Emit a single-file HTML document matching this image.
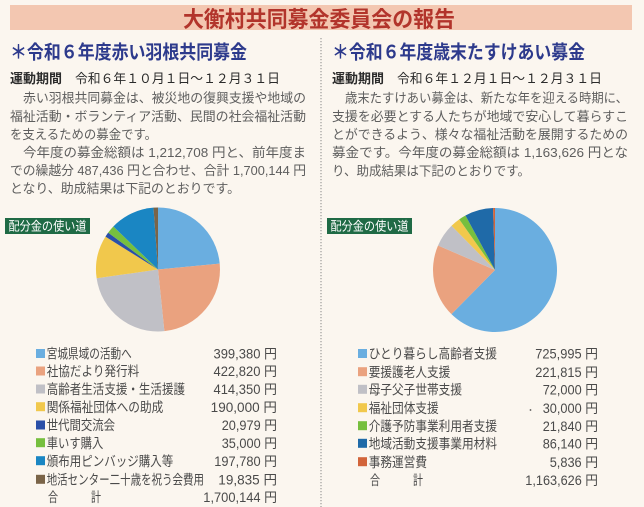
<!DOCTYPE html>
<html><head><meta charset="utf-8">
<style>
html,body{margin:0;padding:0;background:#fbf6ef;}
svg{display:block;}
text{font-family:"Liberation Sans","Noto Sans CJK JP",sans-serif;}
</style></head>
<body>
<svg width="644" height="507" viewBox="0 0 644 507" xmlns="http://www.w3.org/2000/svg">
<rect x="0" y="0" width="644" height="507" fill="#fbf6ef"/>
<!-- header bar -->
<rect x="10" y="5" width="622" height="25" fill="#f3c7b1"/>
<text x="183" y="27" font-size="22" font-weight="bold" fill="#b2342b" textLength="272" lengthAdjust="spacingAndGlyphs">大衡村共同募金委員会の報告</text>

<!-- divider -->
<line x1="321" y1="38" x2="321" y2="507" stroke="#8a8a8a" stroke-width="1" stroke-dasharray="1.2,1.8"/>

<!-- LEFT COLUMN -->
<text x="10" y="58.5" font-size="19" font-weight="bold" fill="#2d3a8c" textLength="237" lengthAdjust="spacingAndGlyphs">＊令和６年度赤い羽根共同募金</text>
<text x="10" y="83" font-size="13" font-weight="bold" fill="#2b2b2b" textLength="52" lengthAdjust="spacingAndGlyphs">運動期間</text>
<text x="75" y="83" font-size="13" fill="#2b2b2b" textLength="205" lengthAdjust="spacingAndGlyphs">令和６年１０月１日～１２月３１日</text>
<g font-size="13.2" fill="#5e5e5e">
<text x="23" y="102.5" textLength="283" lengthAdjust="spacingAndGlyphs">赤い羽根共同募金は、被災地の復興支援や地域の</text>
<text x="10" y="121" textLength="296" lengthAdjust="spacingAndGlyphs">福祉活動・ボランティア活動、民間の社会福祉活動</text>
<text x="10" y="139" textLength="147" lengthAdjust="spacingAndGlyphs">を支えるための募金です。</text>
<text x="23" y="157" textLength="283" lengthAdjust="spacingAndGlyphs">今年度の募金総額は 1,212,708 円と、前年度ま</text>
<text x="10" y="175" textLength="296" lengthAdjust="spacingAndGlyphs">での繰越分 487,436 円と合わせ、合計 1,700,144 円</text>
<text x="10" y="193" textLength="230" lengthAdjust="spacingAndGlyphs">となり、助成結果は下記のとおりです。</text>
</g>

<!-- left label -->
<rect x="5" y="218" width="85" height="16" fill="#1f6a45"/>
<text x="8.5" y="230.5" font-size="12.5" fill="#ffffff" textLength="78" lengthAdjust="spacingAndGlyphs">配分金の使い道</text>

<!-- left pie -->
<g stroke="none">
<path d="M158,269.5 L158,207.5 A62,62 0 0 1 219.72,263.63 Z" fill="#6aaee0"/>
<path d="M158,269.5 L219.72,263.63 A62,62 0 0 1 164.37,331.17 Z" fill="#eaa27f"/>
<path d="M158,269.5 L164.37,331.17 A62,62 0 0 1 96.63,278.31 Z" fill="#c0c0c6"/>
<path d="M158,269.5 L96.63,278.31 A62,62 0 0 1 105.46,236.58 Z" fill="#f1c84c"/>
<path d="M158,269.5 L105.46,236.58 A62,62 0 0 1 108.17,232.60 Z" fill="#2a4fa8"/>
<path d="M158,269.5 L108.17,232.60 A62,62 0 0 1 113.34,226.49 Z" fill="#76bf3e"/>
<path d="M158,269.5 L113.34,226.49 A62,62 0 0 1 153.46,207.67 Z" fill="#1a86c3"/>
<path d="M158,269.5 L153.46,207.67 A62,62 0 0 1 158,207.5 Z" fill="#7a6448"/>
</g>

<!-- left legend -->
<g font-size="13.5" fill="#4a4a4a">
<rect x="36" y="349" width="9" height="9" fill="#6aaee0"/>
<text x="46.7" y="358.5" textLength="85" lengthAdjust="spacingAndGlyphs">宮城県域の活動へ</text>
<text x="277" y="358.5" text-anchor="end" textLength="63.5" lengthAdjust="spacingAndGlyphs">399,380 円</text>

<rect x="36" y="366.5" width="9" height="9" fill="#eaa27f"/>
<text x="46.7" y="376.2" textLength="92.6" lengthAdjust="spacingAndGlyphs">社協だより発行料</text>
<text x="277" y="376.2" text-anchor="end" textLength="63.5" lengthAdjust="spacingAndGlyphs">422,820 円</text>

<rect x="36" y="384.5" width="9" height="9" fill="#c0c0c6"/>
<text x="46.7" y="394.2" textLength="138.3" lengthAdjust="spacingAndGlyphs">高齢者生活支援・生活援護</text>
<text x="277" y="394.2" text-anchor="end" textLength="63.5" lengthAdjust="spacingAndGlyphs">414,350 円</text>

<rect x="36" y="402.2" width="9" height="9" fill="#f1c84c"/>
<text x="46.7" y="411.9" textLength="116.6" lengthAdjust="spacingAndGlyphs">関係福祉団体への助成</text>
<text x="277" y="411.9" text-anchor="end" textLength="66.3" lengthAdjust="spacingAndGlyphs">190,000 円</text>

<rect x="36" y="420.5" width="9" height="9" fill="#2a4fa8"/>
<text x="46.7" y="430.2" textLength="68.3" lengthAdjust="spacingAndGlyphs">世代間交流会</text>
<text x="277" y="430.2" text-anchor="end" textLength="55.3" lengthAdjust="spacingAndGlyphs">20,979 円</text>

<rect x="36" y="438.2" width="9" height="9" fill="#76bf3e"/>
<text x="46.7" y="447.9" textLength="56.6" lengthAdjust="spacingAndGlyphs">車いす購入</text>
<text x="277" y="447.9" text-anchor="end" textLength="55.3" lengthAdjust="spacingAndGlyphs">35,000 円</text>

<rect x="36" y="456.2" width="9" height="9" fill="#1a86c3"/>
<text x="46.7" y="465.9" textLength="126.6" lengthAdjust="spacingAndGlyphs">頒布用ピンバッジ購入等</text>
<text x="277" y="465.9" text-anchor="end" textLength="62.7" lengthAdjust="spacingAndGlyphs">197,780 円</text>

<rect x="36" y="474.8" width="9" height="9" fill="#7a6448"/>
<text x="46.7" y="484.5" textLength="157.3" lengthAdjust="spacingAndGlyphs">地活センター二十歳を祝う会費用</text>
<text x="277" y="484.5" text-anchor="end" textLength="58.7" lengthAdjust="spacingAndGlyphs">19,835 円</text>

<text x="48" y="501.9" textLength="10" lengthAdjust="spacingAndGlyphs">合</text>
<text x="91" y="501.9" textLength="10" lengthAdjust="spacingAndGlyphs">計</text>
<text x="277" y="501.9" text-anchor="end" textLength="73.7" lengthAdjust="spacingAndGlyphs">1,700,144 円</text>
</g>

<!-- RIGHT COLUMN -->
<text x="332" y="58.5" font-size="19" font-weight="bold" fill="#2d3a8c" textLength="253" lengthAdjust="spacingAndGlyphs">＊令和６年度歳末たすけあい募金</text>
<text x="332" y="83" font-size="13" font-weight="bold" fill="#2b2b2b" textLength="52" lengthAdjust="spacingAndGlyphs">運動期間</text>
<text x="397" y="83" font-size="13" fill="#2b2b2b" textLength="205" lengthAdjust="spacingAndGlyphs">令和６年１２月１日～１２月３１日</text>
<g font-size="13.2" fill="#5e5e5e">
<text x="345" y="102.5" textLength="283" lengthAdjust="spacingAndGlyphs">歳末たすけあい募金は、新たな年を迎える時期に、</text>
<text x="332" y="121" textLength="296" lengthAdjust="spacingAndGlyphs">支援を必要とする人たちが地域で安心して暮らすこ</text>
<text x="332" y="139" textLength="296" lengthAdjust="spacingAndGlyphs">とができるよう、様々な福祉活動を展開するための</text>
<text x="332" y="157" textLength="296" lengthAdjust="spacingAndGlyphs">募金です。今年度の募金総額は 1,163,626 円とな</text>
<text x="332" y="175.5" textLength="198" lengthAdjust="spacingAndGlyphs">り、助成結果は下記のとおりです。</text>
</g>

<!-- right label -->
<rect x="327" y="218" width="85" height="16" fill="#1f6a45"/>
<text x="330.5" y="230.5" font-size="12.5" fill="#ffffff" textLength="78" lengthAdjust="spacingAndGlyphs">配分金の使い道</text>

<!-- right pie -->
<g stroke="none">
<path d="M495,270 L495,208 A62,62 0 1 1 451.46,314.14 Z" fill="#6aaee0"/>
<path d="M495,270 L451.46,314.14 A62,62 0 0 1 438.03,245.55 Z" fill="#eaa27f"/>
<path d="M495,270 L438.03,245.55 A62,62 0 0 1 451.55,225.77 Z" fill="#c0c0c6"/>
<path d="M495,270 L451.55,225.77 A62,62 0 0 1 459.25,219.34 Z" fill="#f1c84c"/>
<path d="M495,270 L459.25,219.34 A62,62 0 0 1 465.46,215.49 Z" fill="#76bf3e"/>
<path d="M495,270 L465.46,215.49 A62,62 0 0 1 493.04,208.03 Z" fill="#1f6aa8"/>
<path d="M495,270 L493.04,208.03 A62,62 0 0 1 495,208 Z" fill="#d2643a"/>
</g>

<!-- right legend -->
<g font-size="13.5" fill="#4a4a4a">
<rect x="358" y="349" width="9" height="9" fill="#6aaee0"/>
<text x="368.7" y="358.5" textLength="128.3" lengthAdjust="spacingAndGlyphs">ひとり暮らし高齢者支援</text>
<text x="598" y="358.5" text-anchor="end" textLength="62.7" lengthAdjust="spacingAndGlyphs">725,995 円</text>

<rect x="358" y="367.2" width="9" height="9" fill="#eaa27f"/>
<text x="368.7" y="376.9" textLength="81.6" lengthAdjust="spacingAndGlyphs">要援護老人支援</text>
<text x="598" y="376.9" text-anchor="end" textLength="62.7" lengthAdjust="spacingAndGlyphs">221,815 円</text>

<rect x="358" y="384.8" width="9" height="9" fill="#c0c0c6"/>
<text x="368.7" y="394.5" textLength="93.3" lengthAdjust="spacingAndGlyphs">母子父子世帯支援</text>
<text x="598" y="394.5" text-anchor="end" textLength="55.3" lengthAdjust="spacingAndGlyphs">72,000 円</text>

<rect x="358" y="403.2" width="9" height="9" fill="#f1c84c"/>
<text x="368.7" y="412.9" textLength="70" lengthAdjust="spacingAndGlyphs">福祉団体支援</text>
<circle cx="530.5" cy="410" r="0.9" fill="#555"/>
<text x="598" y="412.9" text-anchor="end" textLength="55.3" lengthAdjust="spacingAndGlyphs">30,000 円</text>

<rect x="358" y="421.2" width="9" height="9" fill="#76bf3e"/>
<text x="368.7" y="430.9" textLength="128.3" lengthAdjust="spacingAndGlyphs">介護予防事業利用者支援</text>
<text x="598" y="430.9" text-anchor="end" textLength="55.3" lengthAdjust="spacingAndGlyphs">21,840 円</text>

<rect x="358" y="438.8" width="9" height="9" fill="#1f6aa8"/>
<text x="368.7" y="448.5" textLength="128.3" lengthAdjust="spacingAndGlyphs">地域活動支援事業用材料</text>
<text x="598" y="448.5" text-anchor="end" textLength="55.3" lengthAdjust="spacingAndGlyphs">86,140 円</text>

<rect x="358" y="457.2" width="9" height="9" fill="#d2643a"/>
<text x="368.7" y="466.9" textLength="58.3" lengthAdjust="spacingAndGlyphs">事務運営費</text>
<text x="598" y="466.9" text-anchor="end" textLength="48.3" lengthAdjust="spacingAndGlyphs">5,836 円</text>

<text x="370" y="485.2" textLength="10" lengthAdjust="spacingAndGlyphs">合</text>
<text x="413" y="485.2" textLength="10" lengthAdjust="spacingAndGlyphs">計</text>
<text x="598" y="485.2" text-anchor="end" textLength="72.7" lengthAdjust="spacingAndGlyphs">1,163,626 円</text>
</g>
</svg>
</body></html>
